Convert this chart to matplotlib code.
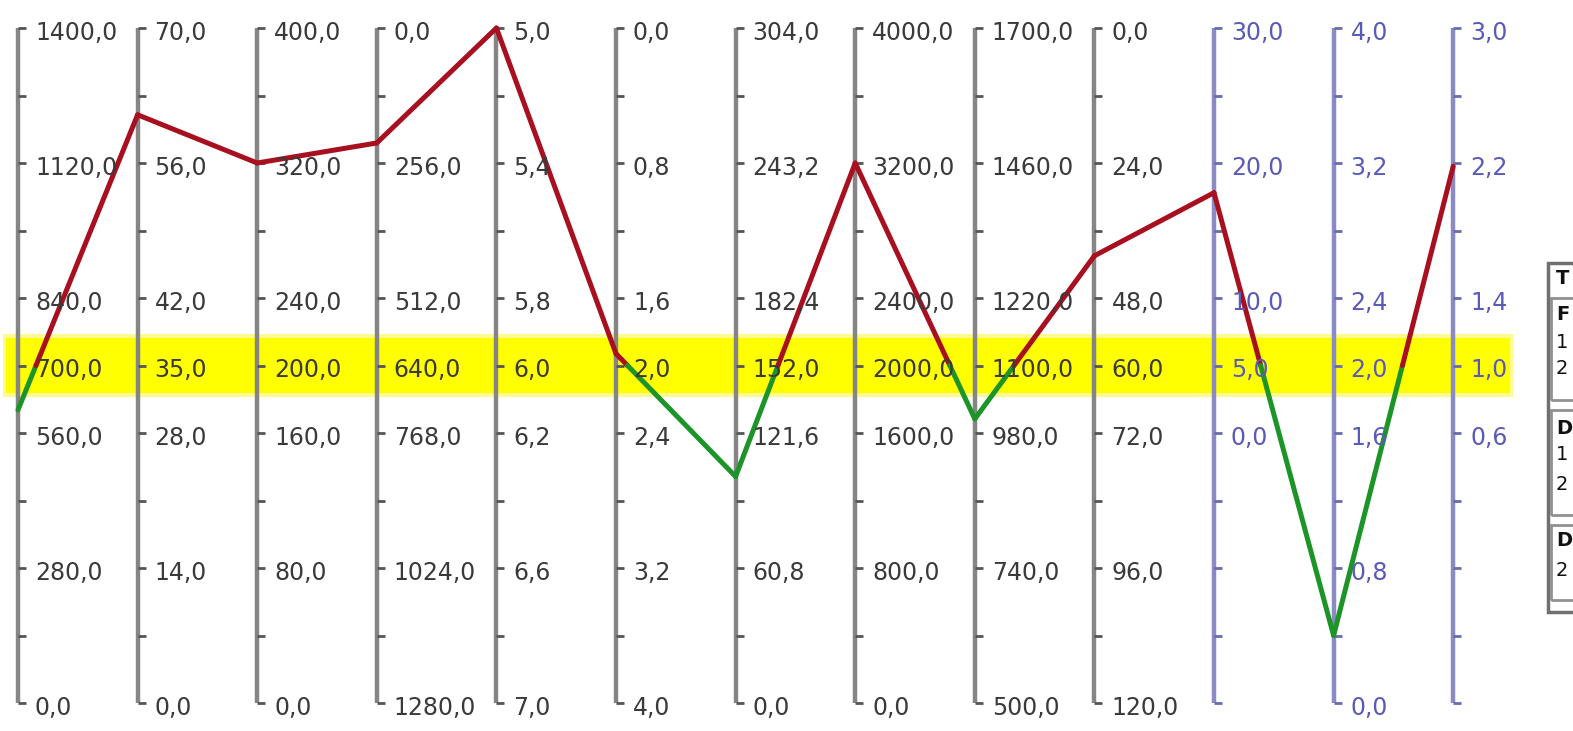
import numpy as np
import matplotlib.pyplot as plt
from matplotlib.collections import LineCollection
from matplotlib.patches import Rectangle

# axis ranges (value at top, value at bottom)
axis_top = [1400, 70, 400, 0, 5.0, 0.0, 304, 4000, 1700, 0, 30, 4.0, 3.0]
axis_bottom = [0, 0, 0, 1280, 7.0, 4.0, 0, 0, 500, 120, -20, 0.0, -1.0]
axis_blue = [False] * 10 + [True] * 3

# the profile drawn across the axes
profile = [608, 61, 320, 218, 5.0, 1.93, 102, 3200, 1005, 40.5, 17.8, 0.4, 2.18]

# tick label positions along each axis (fraction of axis height from bottom)
label_fracs = [0.0, 0.2, 0.4, 0.5, 0.6, 0.8, 1.0]
minor_fracs = np.arange(11) / 10

n_axes = len(axis_top)
W, H = 1573, 731
x0_px, dx_px = 18, 119.6
top_px, span_px = 28, 675

fig = plt.figure(figsize=(W / 100, H / 100), dpi=100)
ax = fig.add_axes([0, 0, 1, 1])
ax.set_xlim(-x0_px / dx_px, (W - x0_px) / dx_px)
ax.set_ylim(-(H - top_px - span_px) / span_px, (H - top_px) / span_px)
ax.axis('off')

px_x = 1 / dx_px
band_half = 0.041

# highlighted band around the mid value
ax.axhspan(0.5 - band_half - 0.006, 0.5 + band_half + 0.006,
           xmin=0.002, xmax=0.962, color='#fbfb90', lw=0, zorder=1)
ax.axhspan(0.5 - band_half, 0.5 + band_half,
           xmin=0.004, xmax=0.960, color='#ffff00', lw=0, zorder=1)


def norm(v, i):
    return (v - axis_bottom[i]) / (axis_top[i] - axis_bottom[i])


def fmt(v):
    return f"{v:.1f}".replace('.', ',')


for i in range(n_axes):
    col = '#8a8ac4' if axis_blue[i] else '#858585'
    tcol = '#5a5ab8' if axis_blue[i] else '#3a3a3a'
    ax.vlines(i, 0, 1, color=col, lw=3.2, zorder=2)
    ax.hlines(minor_fracs, i, i + 8 * px_x, color='#555555' if not axis_blue[i] else '#6a6ab0',
              lw=2.0, zorder=2)
    for f in label_fracs:
        v = axis_bottom[i] + f * (axis_top[i] - axis_bottom[i])
        if v < 0:
            continue
        ax.text(i + 17 * px_x, f - 5 / span_px, fmt(v), color=tcol, fontsize=17,
                ha='left', va='center', zorder=5, family='DejaVu Sans')

# profile line: red above the band centre, green below
ys = [norm(v, i) for i, v in enumerate(profile)]
segs, cols = [], []
for i in range(n_axes - 1):
    xa, ya, xb, yb = i, ys[i], i + 1, ys[i + 1]
    if (ya - 0.5) * (yb - 0.5) < 0:
        xm = xa + (0.5 - ya) / (yb - ya)
        segs.append([(xa, ya), (xm, 0.5)])
        cols.append('#a81020' if ya > 0.5 else '#1c9428')
        segs.append([(xm, 0.5), (xb, yb)])
        cols.append('#a81020' if yb > 0.5 else '#1c9428')
    else:
        segs.append([(xa, ya), (xb, yb)])
        cols.append('#a81020' if (ya + yb) / 2 > 0.5 else '#1c9428')
ax.add_collection(LineCollection(segs, colors=cols, linewidths=3.6,
                                 capstyle='round', joinstyle='round', zorder=4))

# legend box, partly outside the figure on the right
lx = 1548 / W
def fy(p):
    return 1 - p / H
fig.patches.append(Rectangle((lx, fy(612)), 0.1, fy(263) - fy(612), transform=fig.transFigure,
                             fill=True, fc='white', ec='#707070', lw=2.5, zorder=6))
for top, bot in [(298, 400), (410, 515), (525, 600)]:
    fig.patches.append(Rectangle((lx + 3 / W, fy(bot)), 0.1, fy(top) - fy(bot),
                                 transform=fig.transFigure, fill=False, ec='#909090',
                                 lw=2, zorder=7))
legend_rows = [("T", 278, True), ("F", 315, True), ("1", 342, False), ("2", 368, False),
               ("D", 428, True), ("1", 455, False), ("2", 485, False),
               ("D", 541, True), ("2", 570, False)]
for txt, py, bold in legend_rows:
    fig.text(1556 / W, fy(py), txt, fontsize=14, fontweight='bold' if bold else 'normal',
             color='#111111', va='center', ha='left', zorder=8)

fig.savefig('out.png', dpi=100)
